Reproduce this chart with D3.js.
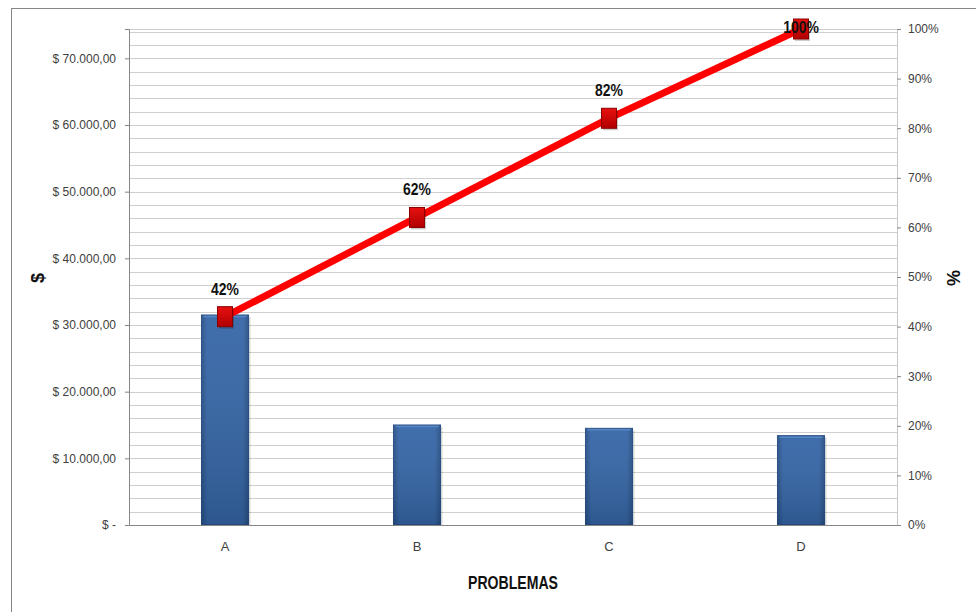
<!DOCTYPE html>
<html>
<head>
<meta charset="utf-8">
<script src="https://cdn.jsdelivr.net/npm/d3@7"></script>
<style>
  body { margin: 0; background: #fff; }
  svg { display: block; font-family: "Liberation Sans", Arial, sans-serif; }
</style>
</head>
<body>
<div id="view"></div>
<script>
// data
var categories = ["A", "B", "C", "D"];
var costs = [31500, 15000, 14500, 13400];
var cumPct = [42, 62, 82, 100];
var leftTicks = [0, 10000, 20000, 30000, 40000, 50000, 60000, 70000];
var rightTicks = [0, 10, 20, 30, 40, 50, 60, 70, 80, 90, 100];

var W = 976, H = 612;
var margin = {top: 29, right: 79, bottom: 87, left: 129},
    width = W - margin.left - margin.right,
    height = H - margin.top - margin.bottom;

var total = d3.sum(costs);

var svg = d3.select("#view")
    .append("svg")
    .attr("width", W)
    .attr("height", H);

var defs = svg.append("defs");

var barGrad = defs.append("linearGradient")
    .attr("id", "barGrad")
    .attr("x1", 0).attr("x2", 1).attr("y1", 0).attr("y2", 0);
barGrad.append("stop").attr("offset", "0%").attr("stop-color", "#274f86");
barGrad.append("stop").attr("offset", "12%").attr("stop-color", "#3465a6");
barGrad.append("stop").attr("offset", "88%").attr("stop-color", "#3465a6");
barGrad.append("stop").attr("offset", "100%").attr("stop-color", "#274f86");

var barShade = defs.append("linearGradient")
    .attr("id", "barShade")
    .attr("x1", 0).attr("x2", 0).attr("y1", 0).attr("y2", 1);
barShade.append("stop").attr("offset", "0%").attr("stop-color", "#ffffff").attr("stop-opacity", 0.06);
barShade.append("stop").attr("offset", "100%").attr("stop-color", "#000000").attr("stop-opacity", 0.15);

var mkGrad = defs.append("linearGradient")
    .attr("id", "mkGrad")
    .attr("x1", 0).attr("x2", 0).attr("y1", 0).attr("y2", 1);
mkGrad.append("stop").attr("offset", "0%").attr("stop-color", "#e81010");
mkGrad.append("stop").attr("offset", "100%").attr("stop-color", "#b00000");

// chart border
svg.append("rect")
    .attr("x", 11.5).attr("y", 8.5)
    .attr("width", 1000).attr("height", 700)
    .attr("fill", "none")
    .attr("stroke", "#868686");

var g = svg.append("g")
    .attr("transform", "translate(" + margin.left + "," + margin.top + ")");

var x = d3.scaleBand()
    .domain(categories)
    .range([0, width])
    .paddingInner(0.755)
    .paddingOuter(0.3775);

var y = d3.scaleLinear()
    .domain([0, total])
    .range([height, 0]);

var y2 = d3.scaleLinear()
    .domain([0, 100])
    .range([height, 0]);

// gridlines every 2000
g.append("g")
    .selectAll("line")
    .data(d3.range(2000, total, 2000))
    .enter().append("line")
    .attr("x1", 0).attr("x2", width)
    .attr("y1", function(d) { return Math.round(y(d)) + 0.5; })
    .attr("y2", function(d) { return Math.round(y(d)) + 0.5; })
    .attr("stroke", "#cfcfcf");

g.append("line")
    .attr("x1", 0).attr("x2", width)
    .attr("y1", 0.5).attr("y2", 0.5)
    .attr("stroke", "#cfcfcf");

// axes
var fmt = function(d) {
    if (d === 0) return "$ -";
    return "$ " + d3.format(",.2f")(d).replace(/,/g, "#").replace(".", ",").replace(/#/g, ".");
};

var yAxis = g.append("g")
    .call(d3.axisLeft(y).tickValues(leftTicks).tickSize(4).tickPadding(9).tickFormat(fmt));
yAxis.select(".domain").attr("stroke", "#868686");
yAxis.selectAll(".tick line").attr("stroke", "#868686");
yAxis.selectAll("text").attr("fill", "#404040").attr("font-size", "12px");

var y2Axis = g.append("g")
    .attr("transform", "translate(" + width + ",0)")
    .call(d3.axisRight(y2).tickValues(rightTicks).tickSize(4).tickPadding(7)
        .tickFormat(function(d) { return d + "%"; }));
y2Axis.select(".domain").attr("stroke", "#c8c8c8");
y2Axis.selectAll(".tick line").attr("stroke", "#868686");
y2Axis.selectAll("text").attr("fill", "#404040").attr("font-size", "12px");

// bars
var bars = g.append("g")
    .selectAll("g")
    .data(costs)
    .enter().append("g");

bars.append("rect")
    .attr("x", function(d, i) { return x(categories[i]) + 2; })
    .attr("y", function(d) { return y(d) + 2; })
    .attr("width", x.bandwidth())
    .attr("height", function(d) { return height - y(d) - 2; })
    .attr("fill", "#000")
    .attr("opacity", 0.15);

bars.append("rect")
    .attr("x", function(d, i) { return x(categories[i]); })
    .attr("y", function(d) { return y(d); })
    .attr("width", x.bandwidth())
    .attr("height", function(d) { return height - y(d); })
    .attr("fill", "url(#barGrad)")
    .attr("stroke", "#264c82")
    .attr("stroke-width", 1);

bars.append("rect")
    .attr("x", function(d, i) { return x(categories[i]); })
    .attr("y", function(d) { return y(d); })
    .attr("width", x.bandwidth())
    .attr("height", function(d) { return height - y(d); })
    .attr("fill", "url(#barShade)");

bars.append("line")
    .attr("x1", function(d, i) { return x(categories[i]) + 2; })
    .attr("x2", function(d, i) { return x(categories[i]) + x.bandwidth() - 2; })
    .attr("y1", function(d) { return y(d) + 1.5; })
    .attr("y2", function(d) { return y(d) + 1.5; })
    .attr("stroke", "#5485c4")
    .attr("stroke-width", 1.5);

// x axis
var xAxis = g.append("g")
    .attr("transform", "translate(0," + height + ")")
    .call(d3.axisBottom(x).tickSize(0).tickPadding(17));
xAxis.select(".domain").attr("stroke", "#868686");
xAxis.selectAll("text").attr("fill", "#404040").attr("font-size", "13px");

// cumulative line
var cx = function(i) { return x(categories[i]) + x.bandwidth() / 2; };

var line = d3.line()
    .x(function(d, i) { return cx(i); })
    .y(function(d) { return y2(d); });

g.append("path")
    .datum(cumPct)
    .attr("fill", "none")
    .attr("stroke", "#ff0000")
    .attr("stroke-width", 7)
    .attr("d", line);

var mw = 15, mh = 20;
g.append("g")
    .selectAll("rect")
    .data(cumPct)
    .enter().append("rect")
    .attr("x", function(d, i) { return cx(i) - mw / 2 + 1.5; })
    .attr("y", function(d) { return y2(d) - mh / 2 + 2; })
    .attr("width", mw)
    .attr("height", mh)
    .attr("fill", "#000")
    .attr("opacity", 0.2);

g.append("g")
    .selectAll("rect")
    .data(cumPct)
    .enter().append("rect")
    .attr("x", function(d, i) { return cx(i) - mw / 2; })
    .attr("y", function(d) { return y2(d) - mh / 2; })
    .attr("width", mw)
    .attr("height", mh)
    .attr("fill", "url(#mkGrad)")
    .attr("stroke", "#8a0000")
    .attr("stroke-width", 1);

// labels are narrow in the original, squeeze them a bit
g.append("g")
    .selectAll("text")
    .data(cumPct)
    .enter().append("text")
    .attr("transform", function(d, i) {
        return "translate(" + cx(i) + "," + Math.max(y2(d) - 22, 4) + ") scale(0.82,1)";
    })
    .attr("text-anchor", "middle")
    .attr("font-size", "17px")
    .attr("font-weight", "bold")
    .attr("fill", "#111")
    .text(function(d) { return d + "%"; });

// axis titles
svg.append("text")
    .attr("transform", "translate(" + (margin.left + width / 2) + ",589)")
    .attr("text-anchor", "middle")
    .attr("font-size", "19px")
    .attr("font-weight", "bold")
    .attr("fill", "#111")
    .attr("textLength", 90)
    .attr("lengthAdjust", "spacingAndGlyphs")
    .text("PROBLEMAS");

svg.append("text")
    .attr("transform", "translate(44,278) rotate(-90)")
    .attr("text-anchor", "middle")
    .attr("font-size", "18px")
    .attr("font-weight", "bold")
    .attr("fill", "#111")
    .text("$");

svg.append("text")
    .attr("transform", "translate(960,278) rotate(-90)")
    .attr("text-anchor", "middle")
    .attr("font-size", "18px")
    .attr("font-weight", "bold")
    .attr("fill", "#111")
    .text("%");
</script>
</body>
</html>
